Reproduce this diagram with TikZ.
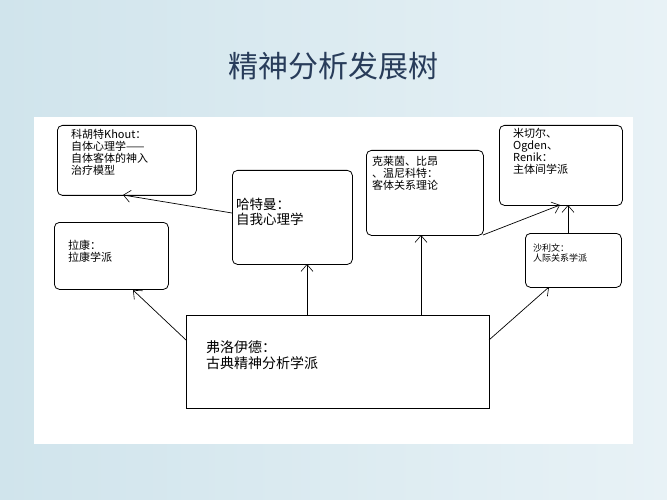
\documentclass[tikz,border=0pt]{standalone}
\usepackage{fontspec}
\newfontfamily\cjk{Noto Sans CJK SC}
\usetikzlibrary{arrows.meta}
\definecolor{bgA}{RGB}{208,228,236}
\definecolor{bgB}{RGB}{232,242,246}
\definecolor{titlec}{RGB}{40,60,90}
\begin{document}
\begin{tikzpicture}[x=1pt,y=-1pt,
 box/.style={draw,line width=0.8pt,rounded corners=5pt,inner sep=0pt},
 sbox/.style={draw,line width=0.8pt,inner sep=0pt},
 txt/.style={anchor=north west,align=left,inner sep=0pt,font=\cjk\fontsize{11}{12}\selectfont},
 conn/.style={line width=0.7pt,-{Straight Barb[length=7pt,width=12pt,line width=0.6pt]}}]
\fill[left color=bgA, right color=bgB] (0,0) rectangle (667,500);
\fill[white] (34,117) rectangle (633,444);
\node[font=\cjk\fontsize{30}{32}\selectfont,text=titlec] (title) at (333,66) {精神分析发展树};
\node[box,minimum width=139,minimum height=70,anchor=north west] (kohut) at (57,125) {};
\node[txt] (kohutT) at (71,129) {科胡特Khout：\\自体心理学——\\自体客体的神入\\治疗模型};
\node[box,minimum width=120,minimum height=94,anchor=north west] (hart) at (232,170) {};
\node[txt,font=\cjk\fontsize{13.5}{15}\selectfont] (hartT) at (236,198) {哈特曼：\\自我心理学};
\node[box,minimum width=117,minimum height=85,anchor=north west] (klein) at (366,150) {};
\node[txt] (kleinT) at (372,156) {克莱茵、比昂\\、温尼科特：\\客体关系理论};
\node[box,minimum width=123,minimum height=80,anchor=north west] (mitch) at (499,125) {};
\node[txt] (mitchT) at (513,128) {米切尔、\\Ogden、\\Renik：\\主体间学派};
\node[box,minimum width=114,minimum height=67,anchor=north west] (lacan) at (54,222) {};
\node[txt] (lacanT) at (68,240) {拉康：\\拉康学派};
\node[box,minimum width=96,minimum height=54,anchor=north west] (sull) at (525,233) {};
\node[txt,font=\cjk\fontsize{9}{10}\selectfont] (sullT) at (533,244) {沙利文：\\人际关系学派};
\node[sbox,minimum width=303,minimum height=93,anchor=north west] (freud) at (186,315) {};
\node[txt,font=\cjk\fontsize{14}{16}\selectfont] (freudT) at (206,340) {弗洛伊德：\\古典精神分析学派};
\draw[conn] (freud.north west |- 0,340) -- (133,290);
\draw[conn] (307,315) -- (307,264);
\draw[conn] (421,315) -- (421,235);
\draw[conn] (489,340) -- (549,287);
\draw[conn] (232,213) -- (123,195);
\draw[conn] (483,235) -- (560,205);
\draw[conn] (568,233) -- (568,205);
\end{tikzpicture}
\end{document}
